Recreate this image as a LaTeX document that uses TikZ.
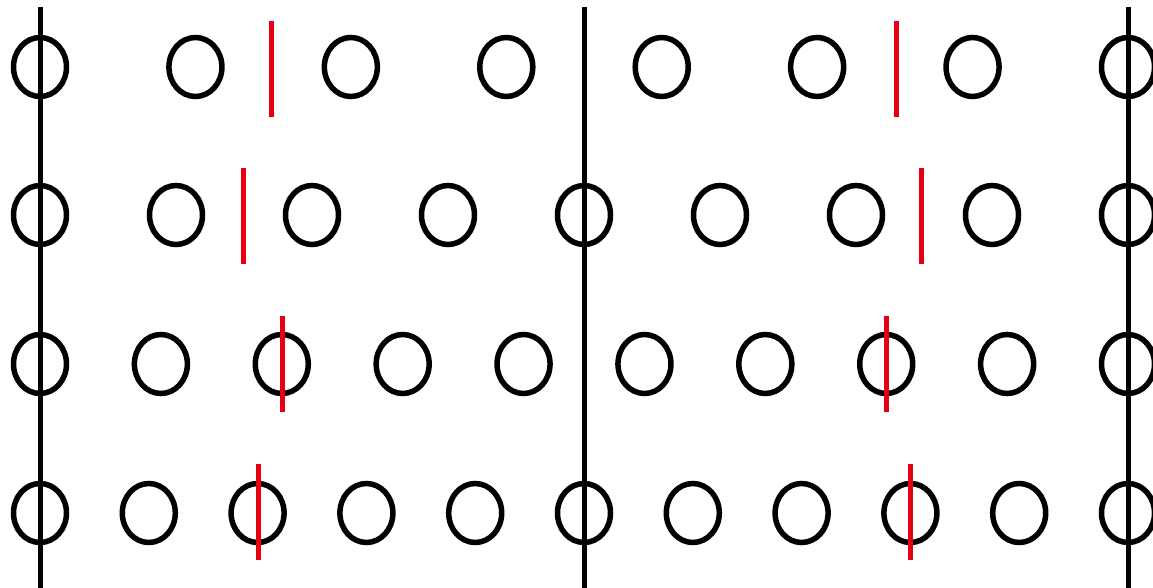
\documentclass[tikz,border=0pt]{standalone}
\usetikzlibrary{shapes.geometric}
\definecolor{cutred}{RGB}{228,0,18}

\begin{document}
\begin{tikzpicture}[x=1pt,y=-1pt,
  ring/.style={draw,ellipse,line width=5.5pt,inner sep=0pt,minimum width=53pt,minimum height=59pt},
  wall/.style={line width=5pt},
  cut/.style={draw=cutred,line width=5pt}]
  \useasboundingbox (0,0) rectangle (1153,588);
  \foreach \w in {0,1,2}
    \draw[wall] (40+544*\w,7) -- (40+544*\w,588);
  \foreach \r/\y/\n in {1/67/7,2/215/8,3/364/9,4/513/10}
    \foreach \k in {0,...,\n}
      \node[ring] (c\r-\k) at ({40+1088*\k/\n},\y) {};
  \foreach \x/\y in {271/69,896/69,243/216,921/216,282/364,886/364,258/512,910/512}
    \draw[cut] (\x,\y-48) -- (\x,\y+48);
\end{tikzpicture}
\end{document}
